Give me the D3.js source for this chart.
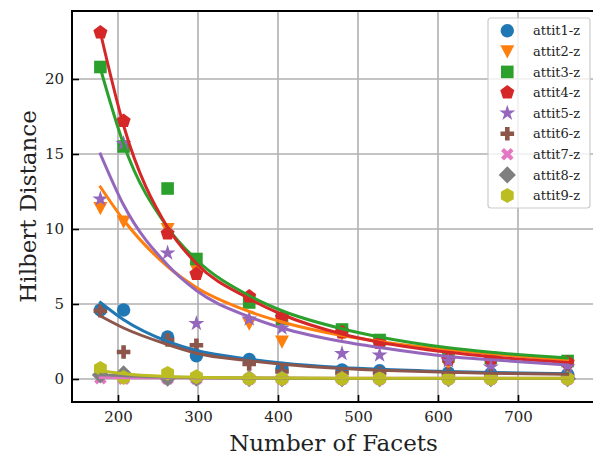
<!DOCTYPE html>
<html><head><meta charset="utf-8">
<script src="https://cdn.jsdelivr.net/npm/d3@7"></script>
<style>html,body{margin:0;padding:0;background:#fff;}svg{display:block;}</style>
</head><body>
<script>
const facets = [178, 207, 262, 298, 364, 405, 480, 527, 613, 666, 762];
const seriesNames = ["attit1-z","attit2-z","attit3-z","attit4-z","attit5-z","attit6-z","attit7-z","attit8-z","attit9-z"];
const attit1 = [4.6, 4.6, 2.8, 1.55, 1.3, 0.7, 0.6, 0.55, 0.4, 0.35, 0.3];
const attit2 = [11.4, 10.5, 10.0, 7.3, 3.7, 2.5, 3.0, 2.4, 1.05, 1.2, 0.9];
const attit3 = [20.8, 15.5, 12.7, 8.0, 5.1, 4.0, 3.3, 2.6, 1.5, 1.4, 1.2];
const attit4 = [23.1, 17.2, 9.7, 7.0, 5.5, 4.1, 3.1, 2.4, 1.3, 1.3, 1.1];
const attit5 = [12.0, 15.7, 8.4, 3.7, 4.0, 3.4, 1.7, 1.6, 1.2, 0.8, 0.8];
const attit6 = [4.55, 1.8, 2.6, 2.25, 1.0, 0.5, 0.4, 0.4, 0.3, 0.2, 0.2];
const attit7 = [0.05, 0.02, 0.02, 0.02, 0.01, 0.01, 0.01, 0.01, 0.01, 0.01, 0.01];
const attit8 = [0.27, 0.35, 0.05, 0.05, 0.03, 0.03, 0.02, 0.02, 0.02, 0.02, 0.02];
const attit9 = [0.7, 0.1, 0.38, 0.15, 0.02, 0.02, 0.02, 0.02, 0.02, 0.02, 0.02];
const fit1 = [5.1, 3.95, 2.5, 1.9, 1.33, 1.07, 0.77, 0.65, 0.5, 0.43, 0.35];
const fit2 = [12.8, 10.6, 7.5, 6.1, 4.5, 3.8, 2.9, 2.5, 1.95, 1.68, 1.25];
const fit3 = [20.7, 15.65, 10.1, 7.95, 5.55, 4.55, 3.35, 2.8, 2.08, 1.78, 1.4];
const fit4 = [23.1, 16.9, 10.1, 7.7, 5.35, 4.3, 3.0, 2.45, 1.78, 1.48, 1.1];
const fit5 = [15.0, 11.6, 7.6, 5.9, 4.15, 3.4, 2.5, 2.1, 1.5, 1.28, 0.93];
const fit6 = [4.2, 3.4, 2.3, 1.72, 1.22, 0.98, 0.7, 0.59, 0.45, 0.39, 0.31];
const fit7 = [0.1, 0.09, 0.08, 0.07, 0.06, 0.06, 0.05, 0.05, 0.05, 0.05, 0.05];
const fit8 = [0.28, 0.22, 0.12, 0.09, 0.06, 0.05, 0.04, 0.04, 0.04, 0.04, 0.04];
const fit9 = [0.55, 0.35, 0.17, 0.12, 0.08, 0.06, 0.05, 0.05, 0.05, 0.05, 0.05];
const xTicks = [200, 300, 400, 500, 600, 700];
const yTicks = [0, 5, 10, 15, 20];
const colors = ["#1f77b4","#ff7f0e","#2ca02c","#d62728","#9467bd","#8c564b","#e377c2","#7f7f7f","#bcbd22"];
const shapes = ["circle","tridown","square","pentagon","star","plus","xfill","diamond","hexagon"];

const values = [attit1, attit2, attit3, attit4, attit5, attit6, attit7, attit8, attit9];
const fits = [fit1, fit2, fit3, fit4, fit5, fit6, fit7, fit8, fit9];

const W = 593, H = 459;
const L = 72, R = 595, T = 11, B = 402;
const x = d3.scaleLinear().domain([142.5, 796.25]).range([L, R]);
const y = d3.scaleLinear().domain([-1.5333, 24.5333]).range([B, T]);

function poly(pts){ return "M" + pts.map(p => p[0].toFixed(2) + "," + p[1].toFixed(2)).join("L") + "Z"; }
function regular(n, r, rot){ const a=[]; for(let i=0;i<n;i++){ const t = rot + i*2*Math.PI/n; a.push([r*Math.cos(t), r*Math.sin(t)]);} return a; }
function markerPath(s){
  switch(s){
    case "circle": return d3.symbol(d3.symbolCircle, Math.PI*6.7*6.7)();
    case "tridown": return poly([[-7,-6],[7,-6],[0,7.2]]);
    case "square": return poly([[-6.3,-6.3],[6.3,-6.3],[6.3,6.3],[-6.3,6.3]]);
    case "pentagon": return poly(regular(5, 7.4, -Math.PI/2));
    case "star": { const a=[]; for(let i=0;i<10;i++){ const r = i%2===0 ? 8.4 : 8.4*0.382; const t=-Math.PI/2 + i*Math.PI/5; a.push([r*Math.cos(t), r*Math.sin(t)]);} return poly(a); }
    case "plus": { const a=6.8, w=2.3; return poly([[-w,-a],[w,-a],[w,-w],[a,-w],[a,w],[w,w],[w,a],[-w,a],[-w,w],[-a,w],[-a,-w],[-w,-w]]); }
    case "xfill": { const a=6.8, w=2.1; const pts=[[-w,-a],[w,-a],[w,-w],[a,-w],[a,w],[w,w],[w,a],[-w,a],[-w,w],[-a,w],[-a,-w],[-w,-w]]; const c=Math.SQRT1_2; return poly(pts.map(p=>[(p[0]-p[1])*c,(p[0]+p[1])*c])); }
    case "diamond": return poly([[0,-8.6],[8.6,0],[0,8.6],[-8.6,0]]);
    case "hexagon": return poly(regular(6, 7.4, -Math.PI/2));
  }
}

const svg = d3.select("body").append("svg").attr("width", W).attr("height", H);
svg.append("rect").attr("width", W).attr("height", H).attr("fill", "#fff");

svg.append("defs").append("clipPath").attr("id","clip").append("rect")
  .attr("x", L).attr("y", T).attr("width", R-L).attr("height", B-T);

// grid
const grid = svg.append("g");
grid.selectAll("line.vx").data(xTicks).join("line")
  .attr("x1", d=>x(d)).attr("x2", d=>x(d)).attr("y1", T).attr("y2", B)
  .attr("stroke", "#b0b0b0").attr("stroke-width", 1.6);
grid.selectAll("line.hy").data(yTicks).join("line")
  .attr("y1", d=>y(d)).attr("y2", d=>y(d)).attr("x1", L).attr("x2", R)
  .attr("stroke", "#b0b0b0").attr("stroke-width", 1.6);

const plot = svg.append("g").attr("clip-path", "url(#clip)");
// markers first (lower zorder)
values.forEach((vals, i) => {
  plot.append("g").selectAll("path").data(vals).join("path")
    .attr("d", markerPath(shapes[i]))
    .attr("transform", (d, j) => `translate(${x(facets[j])},${y(d)})`)
    .attr("fill", colors[i]);
});
// fit lines above markers
const line = d3.line().x((d,j)=>x(facets[j])).y(d=>y(d)).curve(d3.curveMonotoneX);
fits.forEach((f, i) => {
  plot.append("path").datum(f).attr("d", line)
    .attr("fill", "none").attr("stroke", colors[i]).attr("stroke-width", 3)
    .attr("stroke-linecap", "square");
});

// axes
const xAxis = d3.axisBottom(x).tickValues(xTicks).tickSize(-7).tickPadding(16).tickFormat(d3.format("d"));
const yAxis = d3.axisLeft(y).tickValues(yTicks).tickSize(-7).tickPadding(16).tickFormat(d3.format("d"));
const gx = svg.append("g").attr("transform", `translate(0,${B})`).call(xAxis);
const gy = svg.append("g").attr("transform", `translate(${L},0)`).call(yAxis);
[gx, gy].forEach(g => {
  g.select(".domain").remove();
  g.selectAll(".tick line").attr("stroke", "#000").attr("stroke-width", 1.6);
  g.selectAll(".tick text").attr("font-family", "DejaVu Serif").attr("font-size", 15).attr("fill", "#222");
});
gy.selectAll(".tick text").attr("x", -8);
gx.selectAll(".tick text").attr("y", 9);

// spines
svg.append("rect").attr("x", L).attr("y", T).attr("width", R-L).attr("height", B-T)
  .attr("fill", "none").attr("stroke", "#000").attr("stroke-width", 2);

// axis titles
svg.append("text").attr("x", (L+R)/2).attr("y", 451).attr("text-anchor", "middle")
  .attr("font-family", "DejaVu Serif").attr("font-size", 23).attr("fill", "#222").text("Number of Facets");
svg.append("text").attr("transform", `translate(36,${(T+B)/2}) rotate(-90)`).attr("text-anchor", "middle")
  .attr("font-family", "DejaVu Serif").attr("font-size", 23).attr("fill", "#222").text("Hilbert Distance");

// legend
const lg = svg.append("g");
lg.append("rect").attr("x", 488).attr("y", 18).attr("width", 102).attr("height", 190).attr("rx", 3)
  .attr("fill", "#fff").attr("fill-opacity", 0.8).attr("stroke", "#cccccc").attr("stroke-width", 1.2);
seriesNames.forEach((n, i) => {
  const cy = 30.7 + i*20.6;
  lg.append("path").attr("d", markerPath(shapes[i])).attr("transform", `translate(507.3,${cy})`).attr("fill", colors[i]);
  lg.append("text").attr("x", 533).attr("y", cy).attr("dy", "0.36em")
    .attr("font-family", "DejaVu Serif").attr("font-size", 13).attr("fill", "#222").text(n);
});
</script>
</body></html>
